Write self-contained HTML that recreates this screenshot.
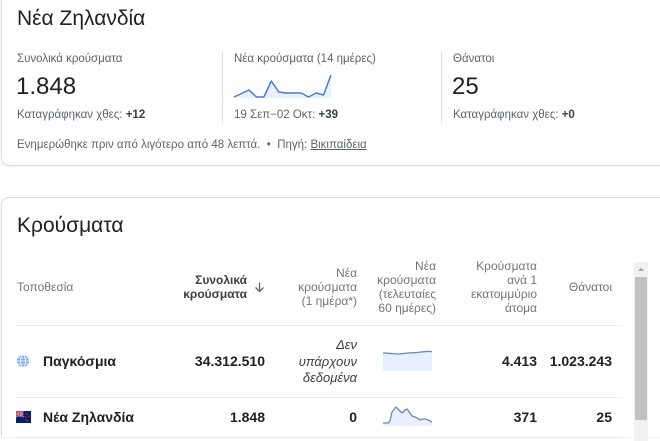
<!DOCTYPE html>
<html><head><meta charset="utf-8">
<style>
*{margin:0;padding:0;box-sizing:border-box}
html{width:660px;height:441px;overflow:hidden;background:#fff}
body{position:relative;width:660px;height:441px;overflow:hidden;background:#fff;font-family:"Liberation Sans",Arial,sans-serif;color:#202124}
.card{position:absolute;left:1px;width:700px;border:1px solid #dadce0;border-radius:8px;background:#fff;box-shadow:0 1px 1px rgba(60,64,67,.08)}
.a{position:absolute;white-space:nowrap}
.t{font-size:21px;line-height:24px;color:#202124}
.l{font-size:11.5px;line-height:14px;color:#5f6368}
.big{font-size:24px;line-height:28px;color:#202124}
.l b{color:#3c4043}
.vd{position:absolute;width:1px;background:#dadce0;top:52px;height:71px}
.h{font-size:12px;line-height:14px;color:#70757a;text-align:right}
.hb{font-weight:bold;color:#3c4043}
.n{font-size:14px;line-height:16px;font-weight:bold;color:#202124;text-align:right}
.sep{position:absolute;left:16px;width:606px;height:1px;background:#e8eaed}
</style></head><body>

<div class="card" style="top:-10px;height:176px"></div>
<div class="card" style="top:197px;height:240px;border-bottom:none;border-bottom-left-radius:0;border-bottom-right-radius:0"></div>

<!-- Card 1 -->
<div class="a t" style="left:17px;top:7px">Νέα Ζηλανδία</div>

<div class="a l" style="left:17px;top:52px">Συνολικά κρούσματα</div>
<div class="a big" style="left:16px;top:73px">1.848</div>
<div class="a l" style="left:17px;top:108px">Καταγράφηκαν χθες: <b>+12</b></div>

<div class="vd" style="left:222px"></div>

<div class="a l" style="left:234px;top:52px">Νέα κρούσματα (14 ημέρες)</div>
<svg class="a" style="left:0;top:0" width="660" height="441">
  <polygon points="234,97 241.5,93.5 249,90 256.4,97 263.9,97 271.3,81 278.8,92 286.2,93 293.7,93 301.1,93 308.6,97 316,93 323.5,95 331,75 331,98 234,98" fill="#e8f0fe"/>
  <polyline points="234,97 241.5,93.5 249,90 256.4,97 263.9,97 271.3,81 278.8,92 286.2,93 293.7,93 301.1,93 308.6,97 316,93 323.5,95 331,75" fill="none" stroke="#4a7bd0" stroke-width="1.5" stroke-linejoin="round"/>
  <!-- table sparkline row1 -->
  <polygon points="383,353 388,353.3 393,353.6 398,354 403,353.6 408,353 413,352.8 418,352.4 423,351.8 428,351.3 432,351.6 432,371 383,371" fill="#e8f0fe"/>
  <polyline points="383,353 388,353.3 393,353.6 398,354 403,353.6 408,353 413,352.8 418,352.4 423,351.8 428,351.3 432,351.6" fill="none" stroke="#6c87b8" stroke-width="1.3"/>
  <!-- table sparkline row2 -->
  <polygon points="383,423 388,423 390,421 392,412 396,407 399,410 402,413 405,410 407,409 410,413 412,416 415,417 417,418 420,420 423,419 425,419 428,420 432,422 432,426 383,426" fill="#e8f0fe"/>
  <polyline points="383,423 388,423 390,421 392,412 396,407 399,410 402,413 405,410 407,409 410,413 412,416 415,417 417,418 420,420 423,419 425,419 428,420 432,422" fill="none" stroke="#6c87b8" stroke-width="1.3" stroke-linejoin="round"/>
  <!-- sort arrow -->
  <line x1="259.5" y1="282.5" x2="259.5" y2="291.5" stroke="#5f6368" stroke-width="1.3"/>
  <polyline points="255.5,287.5 259.5,291.5 263.5,287.5" fill="none" stroke="#5f6368" stroke-width="1.3"/>
  <!-- globe -->
  <circle cx="23" cy="361" r="6" fill="#7baaf7"/>
  <ellipse cx="23" cy="361" rx="2.6" ry="6" fill="none" stroke="#fff" stroke-width="0.8"/>
  <line x1="17" y1="361" x2="29" y2="361" stroke="#fff" stroke-width="0.8"/>
  <line x1="18" y1="358" x2="28" y2="358" stroke="#fff" stroke-width="0.7"/>
  <line x1="18" y1="364" x2="28" y2="364" stroke="#fff" stroke-width="0.7"/>
  <!-- NZ flag -->
  <rect x="16" y="411" width="15" height="12" fill="#012169"/>
  <line x1="16" y1="411" x2="23.5" y2="417" stroke="#fff" stroke-width="1.4"/>
  <line x1="23.5" y1="411" x2="16" y2="417" stroke="#fff" stroke-width="1.4"/>
  <line x1="16" y1="411" x2="23.5" y2="417" stroke="#c8102e" stroke-width="0.6"/>
  <line x1="23.5" y1="411" x2="16" y2="417" stroke="#c8102e" stroke-width="0.6"/>
  <rect x="16" y="413.3" width="7.5" height="1.6" fill="#fff"/>
  <rect x="18.9" y="411" width="1.7" height="6" fill="#fff"/>
  <rect x="16" y="413.7" width="7.5" height="0.8" fill="#c8102e"/>
  <rect x="19.3" y="411" width="0.9" height="6" fill="#c8102e"/>
  <circle cx="27" cy="414" r="0.9" fill="#c8102e"/>
  <circle cx="29" cy="416.5" r="0.9" fill="#c8102e"/>
  <circle cx="25.5" cy="417" r="0.9" fill="#c8102e"/>
  <circle cx="27" cy="420.5" r="1" fill="#c8102e"/>
  <!-- scrollbar -->
  <rect x="634" y="262" width="14" height="180" fill="#f1f1f1"/>
  <rect x="635" y="277" width="12" height="143" fill="#c1c1c1"/>
  <polygon points="638,271 641,267.5 644,271" fill="#a3a3a3"/>
</svg>
<div class="a l" style="left:234px;top:108px">19 Σεπ−02 Οκτ: <b>+39</b></div>

<div class="vd" style="left:441px"></div>

<div class="a l" style="left:453px;top:52px">Θάνατοι</div>
<div class="a big" style="left:452px;top:73px">25</div>
<div class="a l" style="left:453px;top:108px">Καταγράφηκαν χθες: <b>+0</b></div>

<div class="a l" style="left:17px;top:138px">Ενημερώθηκε πριν από λιγότερο από 48 λεπτά. &nbsp;• &nbsp;Πηγή: <span style="text-decoration:underline">Βικιπαίδεια</span></div>

<!-- Card 2 -->
<div class="a t" style="left:17px;top:214px">Κρούσματα</div>

<div class="a h" style="left:17px;top:280px;text-align:left">Τοποθεσία</div>
<div class="a h hb" style="right:413px;top:273px">Συνολικά<br>κρούσματα</div>
<div class="a h" style="right:303px;top:266px">Νέα<br>κρούσματα<br>(1 ημέρα*)</div>
<div class="a h" style="right:224px;top:259px">Νέα<br>κρούσματα<br>(τελευταίες<br>60 ημέρες)</div>
<div class="a h" style="right:123px;top:259px">Κρούσματα<br>ανά 1<br>εκατομμύριο<br>άτομα</div>
<div class="a h" style="right:48px;top:280px">Θάνατοι</div>

<div class="sep" style="top:325px"></div>

<div class="a n" style="left:43px;top:353px;text-align:left">Παγκόσμια</div>
<div class="a n" style="right:395px;top:353px">34.312.510</div>
<div class="a" style="right:303px;top:337px;font-size:13px;line-height:16.5px;font-style:italic;color:#3c4043;text-align:right">Δεν<br>υπάρχουν<br>δεδομένα</div>
<div class="a n" style="right:123px;top:353px">4.413</div>
<div class="a n" style="right:48px;top:353px">1.023.243</div>

<div class="sep" style="top:397px"></div>

<div class="a n" style="left:43px;top:409px;text-align:left">Νέα Ζηλανδία</div>
<div class="a n" style="right:395px;top:409px">1.848</div>
<div class="a n" style="right:303px;top:409px">0</div>
<div class="a n" style="right:123px;top:409px">371</div>
<div class="a n" style="right:48px;top:409px">25</div>

<div class="sep" style="top:437px"></div>

</body></html>
